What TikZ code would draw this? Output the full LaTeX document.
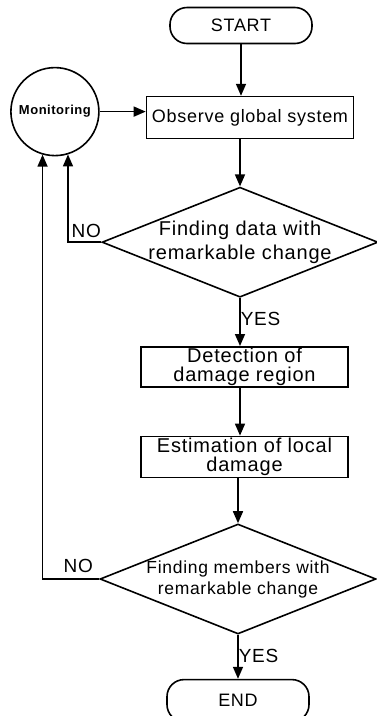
\documentclass[tikz,border=0pt]{standalone}
\usepackage{fontspec}
\setmainfont{Liberation Sans}[LetterSpace=4]
\usepackage{tikz}
\usetikzlibrary{arrows.meta, positioning, shapes.geometric}

\begin{document}
\begin{tikzpicture}[
  term/.style={draw, line width=1.6pt, rounded corners=17pt, minimum width=142pt, minimum height=36pt, inner sep=0pt, font=\fontsize{18}{20}\selectfont},
  proc/.style={draw, line width=1.6pt, minimum width=207pt, minimum height=41pt, inner sep=0pt, align=center, font=\fontsize{20}{19}\selectfont},
  decision/.style={diamond, draw, line width=1.6pt, aspect=2.5, inner xsep=-20pt, inner ysep=-6pt, minimum width=276pt, minimum height=110pt, align=center},
  monitor/.style={circle, draw, line width=1.6pt, minimum size=88pt, inner sep=0pt, font=\bfseries\fontsize{13}{15}\selectfont},
  lbl/.style={inner sep=0pt, font=\fontsize{19}{20}\selectfont},
  arrow/.style={-{Triangle[length=12pt, width=10pt]}, line width=1.6pt}
]
  \useasboundingbox (0,0) rectangle (376pt,-716pt);

  \node[term] (start) at (241pt,-25.5pt) {START};
  \node[proc, below=51.5pt of start, xshift=9pt, minimum height=42pt, font=\fontsize{18}{20}\selectfont] (obs) {Observe global system};
  \node[monitor, left=46pt of obs, yshift=6pt] (mon) {Monitoring};
  \node[decision, below=47pt of obs, xshift=-10pt, font=\fontsize{20}{24}\selectfont] (find1) {Finding data with\\remarkable change};
  \node[proc, below=48pt of find1, xshift=4.5pt, minimum height=40pt] (detect) {Detection of\\damage region};
  \node[proc, below=48pt of detect] (estim) {Estimation of local\\damage};
  \node[decision, below=45pt of estim, xshift=-6.5pt, font=\fontsize{17.5}{21}\selectfont] (find2) {Finding members with\\remarkable change};
  \node[term, below=44pt of find2, minimum height=42pt] (end) {END};

  \draw[arrow] (start.south) -- (start.south |- obs.north);
  \draw[arrow] (mon.east) -- (mon.east -| obs.west);
  \draw[arrow] (obs.south -| find1.north) -- (find1.north);
  \draw[arrow] (find1.south) -- node[lbl, right, pos=0.44] (yes1) {YES} (find1.south |- detect.north);
  \draw[arrow] (detect.south -| find1.south) -- (find1.south |- estim.north);
  \draw[arrow] (estim.south -| find2.north) -- (find2.north);
  \draw[arrow] (find2.south) -- node[lbl, right, pos=0.48] (yes2) {YES} (find2.south |- end.north);

  % loops back to monitoring
  \draw[arrow] (find1.west) -| (mon.-73);
  \draw[arrow] (find2.west) -| (mon.-106);
  \node[lbl, above left=4pt and 0pt of find1.west] (no1) {NO};
  \node[lbl, above left=6pt and 6pt of find2.west] (no2) {NO};
\end{tikzpicture}
\end{document}
